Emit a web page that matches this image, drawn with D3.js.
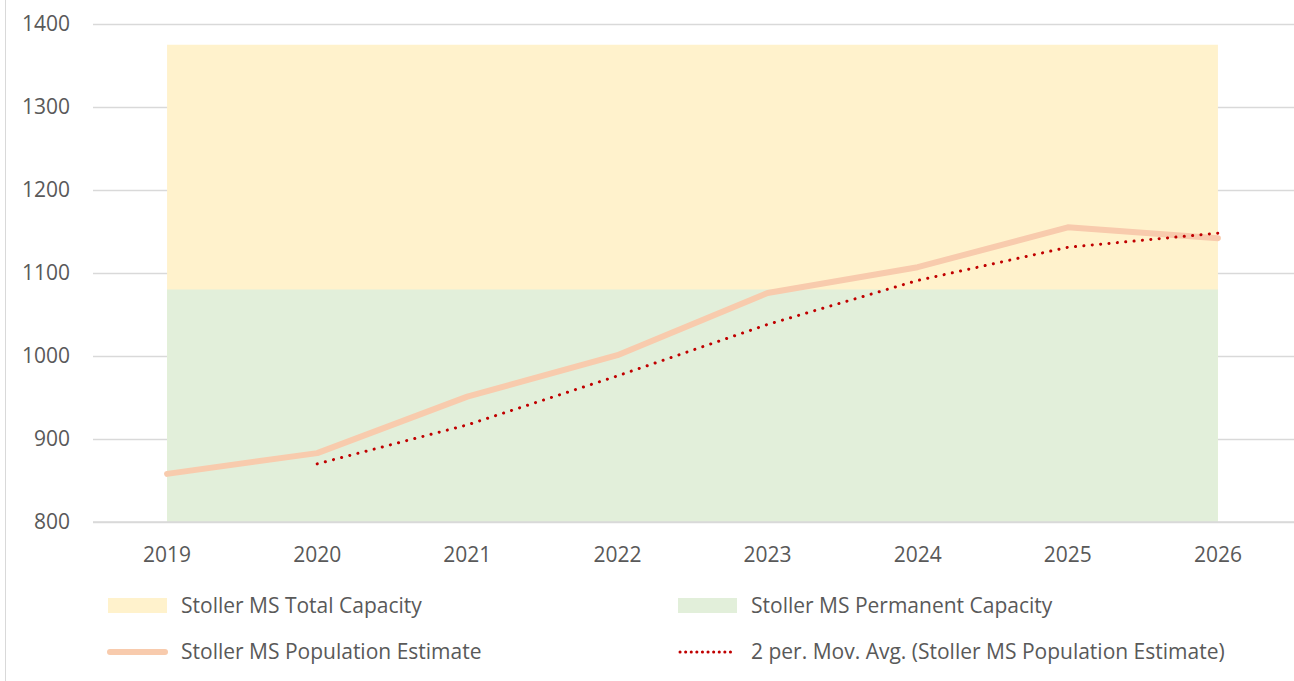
<!DOCTYPE html>
<html>
<head>
<meta charset="utf-8">
<script src="https://cdn.jsdelivr.net/npm/d3@7"></script>
<style>
  body { margin: 0; background: #fff; }
  svg { display: block; font-family: "Open Sans", Lato, sans-serif; }
</style>
</head>
<body>
<div class="svg-container"></div>
<script>
// chart data
let years = ["2019", "2020", "2021", "2022", "2023", "2024", "2025", "2026"];
let totalCapacity = [1375, 1375, 1375, 1375, 1375, 1375, 1375, 1375];
let permanentCapacity = [1080, 1080, 1080, 1080, 1080, 1080, 1080, 1080];
let population = [858, 883, 951, 1001, 1076, 1107, 1155, 1142];
let movingAvg = [null, 870, 917, 976, 1038, 1091, 1131, 1148];
let yTicks = [800, 900, 1000, 1100, 1200, 1300, 1400];

let width = 1294;
let height = 681;
let textColor = "#595959";
let fontFamily = "'Open Sans', Lato, sans-serif";
let fontSize = 21;

let svg = d3.select(".svg-container")
    .append("svg")
    .attr("width", width)
    .attr("height", height);

// chart border on the left
svg.append("line")
    .attr("x1", 5.5).attr("x2", 5.5)
    .attr("y1", 0).attr("y2", height)
    .attr("stroke", "#d9d9d9")
    .attr("stroke-width", 1);

let x = d3.scaleBand()
    .domain(years)
    .range([92, 1293]);

let y = d3.scaleLinear()
    .domain([800, 1400])
    .range([522, 24]);

let cx = d => x(d) + x.bandwidth() / 2;

// gridlines + y labels
let yAxis = svg.append("g")
    .attr("transform", "translate(93,0)")
    .call(d3.axisLeft(y).tickValues(yTicks).tickSize(-1201).tickPadding(23).tickFormat(d3.format("d")));
yAxis.select(".domain").remove();
yAxis.selectAll(".tick line").attr("stroke", "#d9d9d9").attr("stroke-width", 1.5);
yAxis.selectAll(".tick text")
    .attr("fill", textColor)
    .attr("font-size", fontSize)
    .attr("font-family", fontFamily);

// areas
let area = d3.area()
    .x((d, i) => cx(years[i]))
    .y0(y(800))
    .y1(d => y(d));

svg.append("path")
    .datum(totalCapacity)
    .attr("fill", "#fff2cc")
    .attr("d", area);

svg.append("path")
    .datum(permanentCapacity)
    .attr("fill", "#e2efda")
    .attr("d", area);

// bottom gridline over areas
svg.append("line")
    .attr("x1", 93).attr("x2", 1294)
    .attr("y1", y(800)).attr("y2", y(800))
    .attr("stroke", "#d9d9d9")
    .attr("stroke-width", 1.5);

// x labels
let xAxis = svg.append("g")
    .attr("transform", "translate(0," + y(800) + ")")
    .call(d3.axisBottom(x).tickSize(0).tickPadding(25));
xAxis.select(".domain").remove();
xAxis.selectAll(".tick text")
    .attr("fill", textColor)
    .attr("font-size", fontSize)
    .attr("font-family", fontFamily);

// population line
let line = d3.line()
    .defined(d => d != null)
    .x((d, i) => cx(years[i]))
    .y(d => y(d));

svg.append("path")
    .datum(population)
    .attr("fill", "none")
    .attr("stroke", "#f8cbad")
    .attr("stroke-width", 6)
    .attr("stroke-linecap", "round")
    .attr("stroke-linejoin", "round")
    .attr("d", line);

// moving average
svg.append("path")
    .datum(movingAvg)
    .attr("fill", "none")
    .attr("stroke", "#c00000")
    .attr("stroke-width", 3)
    .attr("stroke-linecap", "round")
    .attr("stroke-dasharray", "0.1 8.3")
    .attr("d", line);

// legend
let legendItems = [
    {name: "Stoller MS Total Capacity", type: "box", color: "#fff2cc", x: 108, y: 606},
    {name: "Stoller MS Permanent Capacity", type: "box", color: "#e2efda", x: 678, y: 606},
    {name: "Stoller MS Population Estimate", type: "line", color: "#f8cbad", x: 108, y: 652},
    {name: "2 per. Mov. Avg. (Stoller MS Population Estimate)", type: "dots", color: "#c00000", x: 678, y: 652}
];

let legend = svg.append("g").selectAll("g")
    .data(legendItems)
    .enter()
    .append("g")
    .attr("transform", d => "translate(" + d.x + "," + d.y + ")");

legend.each(function(d) {
    let g = d3.select(this);
    if (d.type === "box") {
        g.append("rect")
            .attr("x", 0).attr("y", -8)
            .attr("width", 59).attr("height", 15)
            .attr("fill", d.color);
    } else if (d.type === "line") {
        g.append("line")
            .attr("x1", 2).attr("x2", 57)
            .attr("y1", 0).attr("y2", 0)
            .attr("stroke", d.color)
            .attr("stroke-width", 6)
            .attr("stroke-linecap", "round");
    } else {
        g.append("line")
            .attr("x1", 2).attr("x2", 58)
            .attr("y1", 0).attr("y2", 0)
            .attr("stroke", d.color)
            .attr("stroke-width", 3)
            .attr("stroke-linecap", "round")
            .attr("stroke-dasharray", "0.1 5.5");
    }
    g.append("text")
        .attr("x", 73)
        .attr("y", 0)
        .attr("dy", "0.35em")
        .attr("fill", textColor)
        .attr("font-size", fontSize)
        .attr("font-family", fontFamily)
        .text(d.name);
});
</script>
</body>
</html>
